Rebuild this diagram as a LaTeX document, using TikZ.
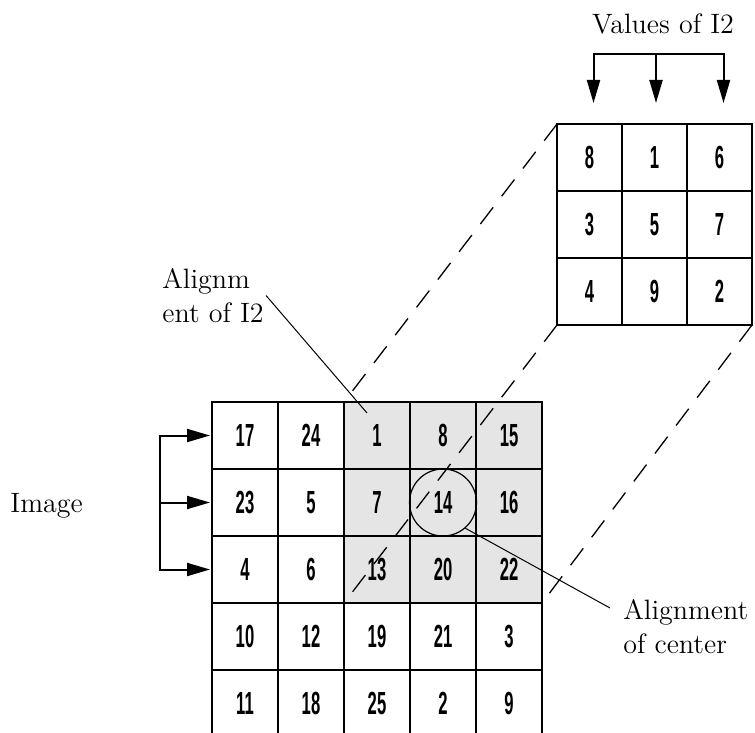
\documentclass[tikz,border=0pt]{standalone}
\usepackage{fontspec}
\usepackage{tikz}
\usetikzlibrary{arrows.meta,backgrounds}
\newfontfamily\cellfont[FakeStretch=0.52]{Liberation Sans}
\tikzset{
  cell/.style={draw, line width=1pt, minimum width=33pt, minimum height=33.5pt, inner sep=0pt, outer sep=0pt, font=\cellfont\bfseries\fontsize{16}{18}\selectfont},
  kcell/.style={cell, minimum width=32.5pt},
  annot/.style={align=left, inner sep=0pt, font=\fontsize{14}{17}\selectfont},
  feed/.style={-{Triangle[length=11.5pt,width=6.5pt]}, line width=1pt},
  proj/.style={dash pattern=on 10.5pt off 7pt, line width=0.65pt},
  leader/.style={line width=0.5pt}
}

\begin{document}
\begin{tikzpicture}[x=0.5pt,y=-0.5pt]
  \useasboundingbox (0,0) rectangle (755,733);

  % image grid
  \foreach \row [count=\r] in {{17,24,1,8,15},{23,5,7,14,16},{4,6,13,20,22},{10,12,19,21,3},{11,18,25,2,9}} {
    \foreach \v [count=\c] in \row {
      \node[cell] (b\r\c) at ({245+66*(\c-1)},{435.5+67*(\r-1)}) {\v};
    }
  }
  \begin{scope}[on background layer]
    \fill[black!10] (b13.north west) rectangle (b35.south east);
  \end{scope}

  % kernel grid
  \foreach \row [count=\r] in {{8,1,6},{3,5,7},{4,9,2}} {
    \foreach \v [count=\c] in \row {
      \node[kcell] (s\r\c) at ({589.5+65*(\c-1)},{157.5+67*(\r-1)}) {\v};
    }
  }

  \node[draw, circle, minimum size=33.5pt, inner sep=0pt, line width=0.6pt] (ring) at (b24.center) {};

  \draw[proj] (s11.north west) -- (b13.north west);
  \draw[proj] (s31.south west) -- (b33.south west);
  \draw[proj] (s33.south east) -- (b35.south east);

  % labels
  \node[annot, anchor=base] (vals) at (663,34) {Values of I2};
  \node[annot, anchor=base west] (img) at (10,512) {Image};
  \node[annot, anchor=north west] (lalign) at (162,268) {Alignm\\ent of I2};
  \node[annot, anchor=north west] (lcenter) at (623,599) {Alignment\\of center};

  \coordinate (pin) at (367,413);
  \draw[leader] ([xshift=1pt]lalign.east) -- (pin);
  \draw[leader] (ring.-49) -- ([xshift=-6.5pt,yshift=-4.5pt]lcenter.north west);

  % arrows
  \coordinate (bar) at (656,54);
  \draw[feed, shorten >=10.5pt] (bar) -| ([xshift=2pt]s11.north);
  \draw[feed, shorten >=10.5pt] (bar) -- (bar |- s12.north);
  \draw[feed, shorten >=10.5pt] (bar) -| ([xshift=2pt]s13.north);

  \coordinate (lbar) at (160,0);
  \draw[feed, shorten >=1pt] (b21.west -| lbar) |- (b11.west);
  \draw[feed, shorten >=1pt] (b21.west -| lbar) -- (b21.west);
  \draw[feed, shorten >=1pt] (b21.west -| lbar) |- (b31.west);
\end{tikzpicture}
\end{document}
